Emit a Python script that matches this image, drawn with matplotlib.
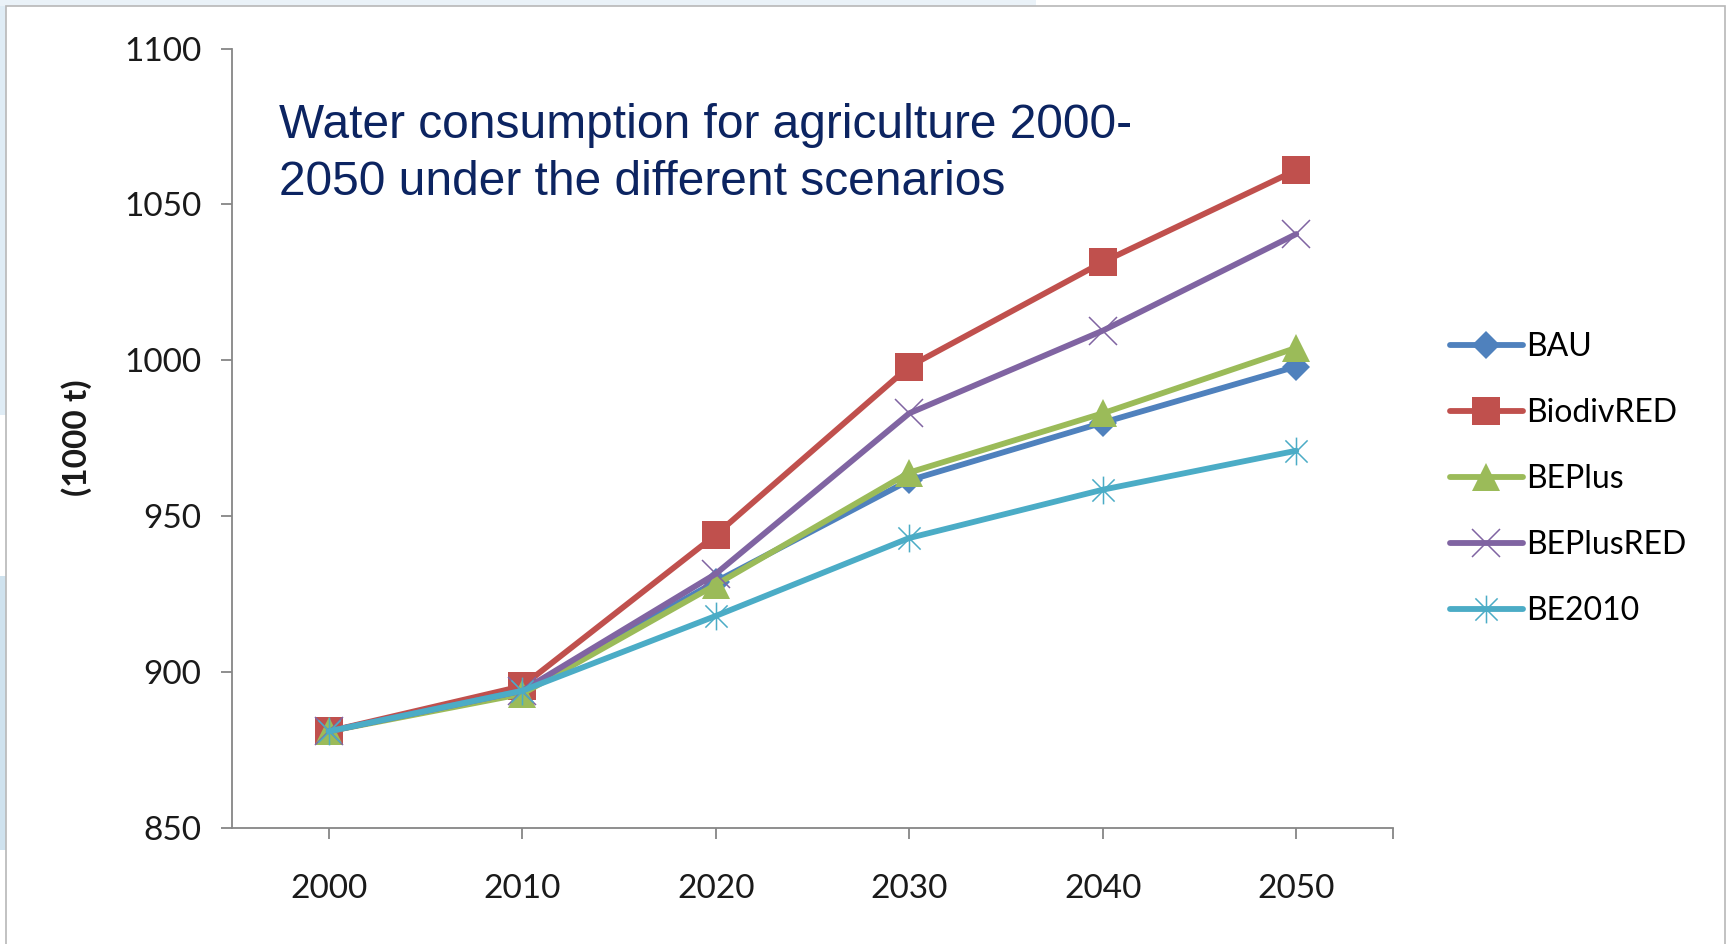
import matplotlib.pyplot as plt
import numpy as np
from matplotlib.path import Path
from matplotlib.patches import Rectangle

# water consumption per scenario, 1000 t
years = ['2000', '2010', '2020', '2030', '2040', '2050']
bau = [881, 894, 929, 961.5, 980, 998]
biodivred = [881, 895.5, 944, 998, 1031.5, 1061]
beplus = [881, 893, 928, 964, 983, 1004]
beplusred = [881, 894, 931.5, 983, 1009.5, 1040.5]
be2010 = [881, 894, 918, 943, 958.5, 971]

# excel style star marker: an x with a vertical bar through it
star = Path([(-1, -1), (1, 1), (-1, 1), (1, -1), (0, -1.25), (0, 1.25)],
            [Path.MOVETO, Path.LINETO, Path.MOVETO, Path.LINETO, Path.MOVETO, Path.LINETO])

series = [
    ('BAU', bau, '#4F81BD', 'D', 14, 0),
    ('BiodivRED', biodivred, '#C0504D', 's', 20, 0),
    ('BEPlus', beplus, '#9BBB59', '^', 20, 0),
    ('BEPlusRED', beplusred, '#8064A2', 'x', 20, 1.1),
    ('BE2010', be2010, '#4BACC6', star, 20, 1.1),
]

fig = plt.figure(figsize=(17.27, 9.44), dpi=100)
fig.patch.set_facecolor('white')

# slide background behind the white panel
fig.patches.append(Rectangle((0, 0.56), 0.004, 0.44, transform=fig.transFigure,
                             facecolor='#dfecf5', edgecolor='none', zorder=-3))
fig.patches.append(Rectangle((0, 0.10), 0.004, 0.29, transform=fig.transFigure,
                             facecolor='#cfe2ee', edgecolor='none', zorder=-3))
fig.patches.append(Rectangle((0.0, 0.994), 0.6, 0.006, transform=fig.transFigure,
                             facecolor='#eaf2f8', edgecolor='none', zorder=-3))
fig.patches.append(Rectangle((6 / 1727, -0.05), (1725 - 6) / 1727, 1.05 - 6 / 944,
                             transform=fig.transFigure, facecolor='white',
                             edgecolor='#b8b8b8', linewidth=1.2, zorder=-2))

ax = fig.add_axes([0.1343, 0.1229, 0.6723, 0.8257])
ax.set_zorder(2)
ax.set_facecolor('none')
x = np.arange(len(years))

handles = []
for name, vals, col, mk, ms, mew in series:
    if mew:
        h, = ax.plot(x, vals, color=col, lw=4.2, marker=mk, markersize=ms,
                     markeredgewidth=mew, markeredgecolor=col, markerfacecolor='none',
                     label=name, solid_capstyle='round')
    else:
        h, = ax.plot(x, vals, color=col, lw=4.2, marker=mk, markersize=ms,
                     markeredgewidth=0, markerfacecolor=col, label=name,
                     solid_capstyle='round')
    handles.append(h)

ax.set_xlim(-0.5, 5.5)
ax.set_ylim(850, 1100)
ax.set_yticks([850, 900, 950, 1000, 1050, 1100])
ax.set_xticks(x)
ax.set_xticks([5.5], minor=True)
ax.set_xticklabels(years)

for side in ['top', 'right']:
    ax.spines[side].set_visible(False)
for side in ['left', 'bottom']:
    ax.spines[side].set_color('#868686')
    ax.spines[side].set_linewidth(1.3)

ax.tick_params(axis='both', which='both', direction='out', length=8, width=1.3,
               color='#868686', labelsize=24, labelcolor='#1a1a1a')
ax.tick_params(axis='x', pad=25)
ax.tick_params(axis='y', pad=14)
for lab in ax.get_xticklabels() + ax.get_yticklabels():
    lab.set_family('Lato')

fig.text(77 / 1727, 1 - 438 / 944, '(1000 t)', rotation=90, ha='center', va='center',
         fontsize=24, fontweight='bold', family='Lato', color='#1a1a1a')

fig.text(279 / 1727, 1 - 103 / 944, 'Water consumption for agriculture 2000-\n2050 under the different scenarios',
         ha='left', va='top', fontsize=34.5, family='Liberation Sans', color='#0c2461',
         linespacing=1.34)

fig.legend(handles=handles, loc='center left', bbox_to_anchor=(1421 / 1727, 1 - 479 / 944),
           frameon=False, handlelength=2.3, handletextpad=0.1,
           labelspacing=1.13, prop={'family': 'Lato', 'size': 23})

plt.savefig('out.png', dpi=100)
